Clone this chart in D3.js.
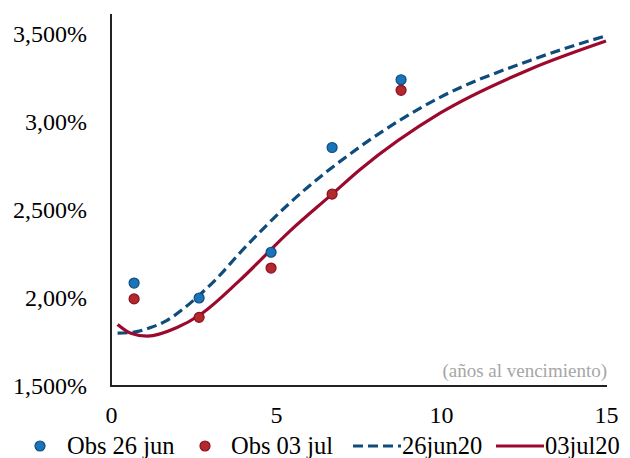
<html>
<head>
  <meta charset="utf-8">
  <title>Curva de rendimientos</title>
  <script src="https://d3js.org/d3.v7.min.js"></script>
  <style>
    body { margin: 0; background: #fff; }
    svg text { font-family: "Liberation Serif", "Times New Roman", serif; }
  </style>
</head>
<body>
<div id="chart"></div>
<script>
// observed yields (plazo en años, rendimiento %)
var obsPlazo = [0.7, 2.67, 4.85, 6.7, 8.79]
var obs26jun = [2.085, 2.00, 2.26, 2.855, 3.24]
var obs03jul = [1.995, 1.89, 2.17, 2.59, 3.18]

// fitted curves
var curva26x = [0.2, 0.7, 1.2, 1.7, 2.2, 2.7, 3.2, 3.9, 5.42, 7.55, 9.97, 12.7, 15]
var curva26y = [1.80, 1.806, 1.832, 1.873, 1.94, 2.02, 2.11, 2.255, 2.54, 2.86, 3.14, 3.35, 3.49]
var curva03x = [0.2, 0.6, 1.1, 2.0, 2.7, 3.9, 5.42, 6.7, 7.55, 9.97, 12.7, 15]
var curva03y = [1.85, 1.80, 1.783, 1.832, 1.905, 2.10, 2.38, 2.59, 2.73, 3.05, 3.30, 3.46]

var xTicks = [0, 5, 10, 15]
var yTicks = [1.5, 2.0, 2.5, 3.0, 3.5]
var yTickLabels = ["1,500%", "2,00%", "2,500%", "3,00%", "3,500%"]

var W = 630, H = 458
var margin = { top: 16, right: 24, bottom: 72, left: 111 }
var w = W - margin.left - margin.right,
    h = H - margin.top - margin.bottom

var blue = "#0f4c7c", red = "#9b0a2e"

var svg = d3.select("#chart").append("svg")
    .attr("width", W).attr("height", H)

var g = svg.append("g").attr("transform", "translate(" + margin.left + "," + margin.top + ")")

var x = d3.scaleLinear().domain([0, 15]).range([0, 495])
var y = d3.scaleLinear().domain([1.5, 3.6]).range([h, h - 2.1 * 176])

// axes
var xAxis = d3.axisBottom(x).tickValues(xTicks).tickSize(0).tickPadding(20)
var yAxis = d3.axisLeft(y).tickValues(yTicks).tickSize(0).tickPadding(24)
    .tickFormat(function(d, i) { return yTickLabels[i] })

var gx = g.append("g").attr("transform", "translate(0," + h + ")").call(xAxis)
gx.select(".domain").attr("stroke", "#222").attr("stroke-width", 2).attr("d", "M0,0H496")
gx.selectAll("text").attr("font-size", 24).attr("fill", "#000")
  .style("font-family", '"Liberation Serif", "Times New Roman", serif')

var gy = g.append("g").call(yAxis)
gy.select(".domain").attr("stroke", "#222").attr("stroke-width", 2).attr("d", "M0," + (h + 1) + "V-2")
gy.selectAll("text").attr("font-size", 24).attr("fill", "#000")
  .style("font-family", '"Liberation Serif", "Times New Roman", serif')

// note
g.append("text")
  .attr("x", 496).attr("y", h - 9)
  .attr("text-anchor", "end")
  .attr("font-size", 19)
  .attr("fill", "#a6a6a6")
  .text("(años al vencimiento)")

// curves
var line = d3.line()
  .x(function(d) { return x(d[0]) })
  .y(function(d) { return y(d[1]) })
  .curve(d3.curveMonotoneX)

g.append("path")
  .datum(d3.zip(curva26x, curva26y))
  .attr("d", line)
  .attr("fill", "none")
  .attr("stroke", blue)
  .attr("stroke-width", 3.2)
  .attr("stroke-dasharray", "10,5")

g.append("path")
  .datum(d3.zip(curva03x, curva03y))
  .attr("d", line)
  .attr("fill", "none")
  .attr("stroke", red)
  .attr("stroke-width", 3.2)

// dots
g.selectAll(".obs26")
  .data(d3.zip(obsPlazo, obs26jun))
  .enter().append("circle")
    .attr("class", "obs26")
    .attr("cx", function(d) { return x(d[0]) })
    .attr("cy", function(d) { return y(d[1]) })
    .attr("r", 5)
    .attr("fill", "#1a74b9")
    .attr("stroke", "#0f4c7c")
    .attr("stroke-width", 1.2)

g.selectAll(".obs03")
  .data(d3.zip(obsPlazo, obs03jul))
  .enter().append("circle")
    .attr("class", "obs03")
    .attr("cx", function(d) { return x(d[0]) })
    .attr("cy", function(d) { return y(d[1]) })
    .attr("r", 5)
    .attr("fill", "#b3282a")
    .attr("stroke", "#8a0f22")
    .attr("stroke-width", 1.2)

// legend
var leg = svg.append("g").attr("transform", "translate(0,446)")
var legTxt = function(xx, s) {
  leg.append("text").attr("x", xx).attr("y", 8).attr("font-size", 24.5).attr("fill", "#000").text(s)
}
leg.append("circle").attr("cx", 40).attr("cy", 0).attr("r", 5)
  .attr("fill", "#1a74b9").attr("stroke", "#0f4c7c").attr("stroke-width", 1.2)
legTxt(67, "Obs 26 jun")
leg.append("circle").attr("cx", 205).attr("cy", 0).attr("r", 5)
  .attr("fill", "#b3282a").attr("stroke", "#8a0f22").attr("stroke-width", 1.2)
legTxt(231, "Obs 03 jul")
leg.append("line").attr("x1", 353).attr("x2", 401).attr("y1", 0).attr("y2", 0)
  .attr("stroke", blue).attr("stroke-width", 3.2).attr("stroke-dasharray", "10,5")
legTxt(402, "26jun20")
leg.append("line").attr("x1", 496).attr("x2", 544).attr("y1", 0).attr("y2", 0)
  .attr("stroke", red).attr("stroke-width", 3.2)
legTxt(545, "03jul20")
</script>
</body>
</html>
